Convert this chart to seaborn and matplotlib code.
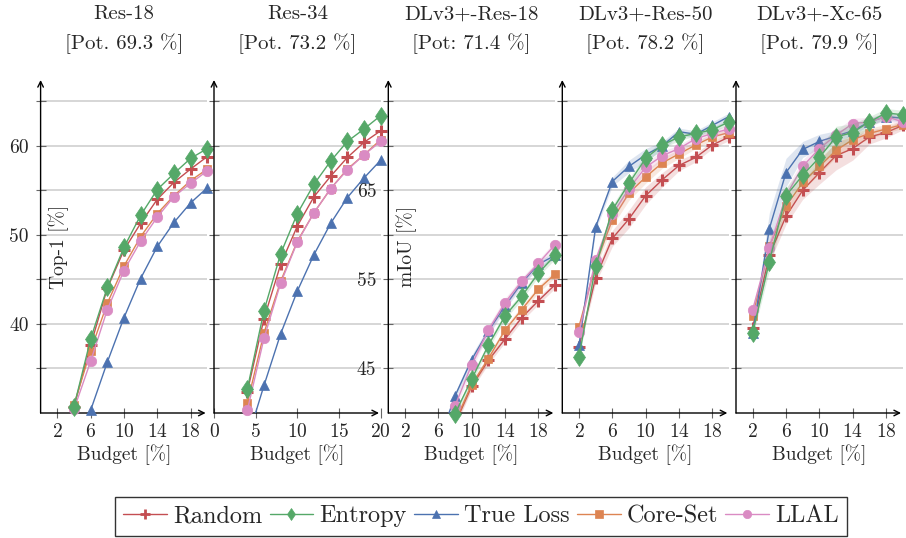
import numpy as np
import pandas as pd
import seaborn as sns
import matplotlib.pyplot as plt
from matplotlib.lines import Line2D

nan = np.nan

methods = ["Random", "Entropy", "True Loss", "Core-Set", "LLAL"]
titles = ["Res-18\n[Pot. 69.3 %]", "Res-34\n[Pot. 73.2 %]", "DLv3+-Res-18\n[Pot: 71.4 %]",
          "DLv3+-Res-50\n[Pot. 78.2 %]", "DLv3+-Xc-65\n[Pot. 79.9 %]"]
budget = [2, 4, 6, 8, 10, 12, 14, 16, 18, 20]

# Top-1 [%], classification
res18 = {
    "Random":    [nan, 30.7, 37.6, 44.0, 48.3, 51.3, 54.0, 55.9, 57.4, 58.8],
    "Entropy":   [nan, 30.7, 38.3, 44.1, 48.6, 52.2, 55.1, 56.9, 58.6, 59.7],
    "True Loss": [nan, nan, 30.3, 35.7, 40.7, 45.1, 48.7, 51.4, 53.6, 55.3],
    "Core-Set":  [nan, 30.9, 37.0, 42.3, 46.5, 49.8, 52.4, 54.4, 56.1, 57.4],
    "LLAL":      [nan, 30.4, 35.8, 41.6, 46.0, 49.3, 52.0, 54.3, 55.8, 57.2],
}
res34 = {
    "Random":    [nan, 32.4, 40.6, 46.7, 51.0, 54.3, 56.6, 58.7, 60.4, 61.7],
    "Entropy":   [nan, 32.7, 41.5, 47.9, 52.4, 55.7, 58.3, 60.5, 61.9, 63.4],
    "True Loss": [nan, 27.0, 33.1, 38.9, 43.7, 47.8, 51.3, 54.2, 56.4, 58.4],
    "Core-Set":  [nan, 31.1, 39.0, 44.8, 49.3, 52.5, 55.2, 57.4, 59.0, 60.7],
    "LLAL":      [nan, 30.3, 38.4, 44.6, 49.2, 52.5, 55.2, 57.3, 59.0, 60.5],
}
# mIoU [%], segmentation
dl_res18 = {
    "Random":    [nan, nan, nan, 38.8, 43.0, 45.9, 48.3, 50.7, 52.6, 54.4],
    "Entropy":   [nan, nan, 35.5, 39.9, 43.8, 47.6, 50.9, 53.1, 55.7, 57.7],
    "True Loss": [nan, nan, 36.6, 41.9, 46.0, 49.2, 52.0, 54.6, 56.7, 57.7],
    "Core-Set":  [nan, nan, nan, 39.0, 43.2, 46.1, 49.3, 51.6, 53.9, 55.6],
    "LLAL":      [nan, nan, 36.0, 40.8, 45.4, 49.3, 52.4, 54.8, 56.8, 58.9],
}
dl_res50 = {
    "Random":    [47.4, 55.2, 59.6, 61.8, 64.4, 66.2, 67.8, 68.7, 70.1, 71.0],
    "Entropy":   [46.3, 56.5, 62.8, 65.8, 68.6, 70.1, 71.0, 71.4, 71.8, 72.7],
    "True Loss": [47.6, 60.9, 66.0, 67.7, 69.0, 70.0, 71.6, 71.3, 72.3, 73.3],
    "Core-Set":  [49.7, 56.7, 61.7, 64.7, 66.5, 68.1, 69.1, 70.1, 71.0, 71.5],
    "LLAL":      [49.1, 57.2, 62.3, 65.2, 67.6, 68.9, 69.7, 70.8, 71.4, 71.9],
}
dl_xc65 = {
    "Random":    [49.6, 57.7, 62.1, 65.0, 67.0, 68.9, 69.7, 71.0, 71.5, 72.3],
    "Entropy":   [49.0, 57.0, 64.4, 66.7, 68.7, 71.0, 71.5, 72.7, 73.7, 73.5],
    "True Loss": [49.0, 60.7, 67.0, 69.6, 70.5, 71.1, 71.7, 72.7, 73.3, 73.1],
    "Core-Set":  [50.9, 58.7, 63.2, 65.9, 67.7, 69.5, 70.7, 71.4, 71.9, 72.4],
    "LLAL":      [51.6, 58.5, 64.4, 67.7, 69.7, 71.2, 72.5, 72.7, 73.3, 72.7],
}
# std bands (segmentation runs)
std_dl_res18 = {
    "Random":    [nan, nan, nan, 0.4, 0.4, 0.4, 0.4, 0.4, 0.4, 0.4],
    "Entropy":   [nan, nan, 0.4, 0.4, 0.4, 0.4, 0.4, 0.4, 0.4, 0.4],
    "True Loss": [nan, nan, 0.4, 0.4, 0.5, 0.5, 0.4, 0.4, 0.4, 0.4],
    "Core-Set":  [nan, nan, nan, 0.4, 0.4, 0.4, 0.4, 0.4, 0.4, 0.4],
    "LLAL":      [nan, nan, 0.4, 0.5, 0.5, 0.5, 0.5, 0.4, 0.4, 0.4],
}
std_dl_res50 = {
    "Random":    [0.4, 0.6, 0.9, 1.0, 1.0, 0.8, 0.6, 0.5, 0.4, 0.4],
    "Entropy":   [0.3, 0.4, 0.5, 0.5, 0.5, 0.4, 0.4, 0.3, 0.3, 0.3],
    "True Loss": [0.3, 0.4, 0.5, 0.7, 0.7, 0.5, 0.4, 0.4, 0.4, 0.4],
    "Core-Set":  [0.3, 0.5, 0.7, 0.8, 0.7, 0.6, 0.5, 0.4, 0.4, 0.4],
    "LLAL":      [0.3, 0.5, 0.6, 0.6, 0.6, 0.5, 0.4, 0.4, 0.4, 0.4],
}
std_dl_xc65 = {
    "Random":    [0.4, 0.8, 0.9, 1.0, 1.3, 1.6, 1.3, 0.8, 0.6, 0.5],
    "Entropy":   [0.4, 1.0, 0.9, 0.9, 1.1, 1.2, 1.0, 0.6, 0.5, 0.5],
    "True Loss": [0.4, 1.8, 1.6, 0.9, 0.8, 0.6, 0.5, 0.4, 0.4, 0.4],
    "Core-Set":  [0.4, 0.8, 0.8, 0.8, 0.9, 0.8, 0.7, 0.6, 0.5, 0.4],
    "LLAL":      [0.4, 0.8, 0.8, 0.7, 0.7, 0.6, 0.6, 0.5, 0.4, 0.4],
}

panels = [res18, res34, dl_res18, dl_res50, dl_xc65]
stds = [None, None, std_dl_res18, std_dl_res50, std_dl_xc65]

sns.set_style("white")
plt.rcParams['font.family'] = ['cmr10', 'DejaVu Serif']
plt.rcParams['mathtext.fontset'] = 'cm'
plt.rcParams['axes.formatter.use_mathtext'] = True

pal = sns.color_palette("deep")
colors = {"Random": pal[3], "Entropy": pal[2], "True Loss": pal[0], "Core-Set": pal[1], "LLAL": pal[6]}
markers = {"Random": "+", "Entropy": "d", "True Loss": "^", "Core-Set": "s", "LLAL": "o"}
msize = {"Random": 9, "Entropy": 9.5, "True Loss": 7.5, "Core-Set": 6, "LLAL": 7.5}
zord = {"Random": 3, "Core-Set": 4, "True Loss": 5, "LLAL": 6, "Entropy": 7}

W, H = 906, 538
fig = plt.figure(figsize=(W / 100, H / 100), dpi=100)
lefts = [40.6, 214.0, 388.3, 562.3, 736.0]
pw, ph, pb = 166.7, 333.0, 413.0

for i, data in enumerate(panels):
    ax = fig.add_axes([lefts[i] / W, (H - pb) / H, pw / W, ph / H])
    seg = i >= 2
    ylo = 40 if seg else 30
    ax.set_xlim(0, 20)
    ax.set_ylim(ylo, ylo + 37.4)

    for m in methods:
        y = np.array(data[m], dtype=float)
        x = np.array(budget, dtype=float)
        c = colors[m]
        if stds[i] is not None:
            s = np.array(stds[i][m], dtype=float)
            ax.fill_between(x, y - s, y + s, color=c, alpha=0.18, lw=0, zorder=zord[m] - 0.5)
        ok = ~np.isnan(y)
        sns.lineplot(x=x[ok], y=y[ok], ax=ax, color=c, lw=1.0, errorbar=None,
                     sort=False, zorder=zord[m])
        vis = ok & (y >= ylo - 0.3)
        mew = 2.2 if m == "Random" else 0.5
        ax.plot(x[vis], y[vis], ls="none", marker=markers[m], ms=msize[m], color=c,
                mec=c, mew=mew, clip_on=False, zorder=zord[m] + 0.2)

    # ticks
    if i == 1:
        ax.set_xticks([0, 5, 10, 15, 20])
    else:
        ax.set_xticks([2, 6, 10, 14, 18])
    yt = np.arange(ylo + 5, ylo + 36, 5)
    ax.set_yticks(yt)
    if i == 0:
        ax.set_yticklabels(["" if v % 10 else f"{v:.0f}" for v in yt])
    elif i == 2:
        ax.set_yticklabels([f"{v:.0f}" if v in (45, 55, 65) else "" for v in yt])
    else:
        ax.set_yticklabels([])
    ax.tick_params(direction="inout", length=7, width=0.8, color="#666666",
                   labelsize=14, pad=5, left=True, bottom=True)
    ax.tick_params(axis="x", pad=4)
    ax.yaxis.grid(True, color="#cccccc", lw=1.1)
    ax.set_axisbelow(True)
    for sp in ax.spines.values():
        sp.set_visible(False)
    ax.annotate("", xy=(0.99, 0), xytext=(0, 0), xycoords="axes fraction",
                arrowprops=dict(arrowstyle="->", lw=1, color="k", shrinkA=0, shrinkB=0))
    ax.annotate("", xy=(0, 1), xytext=(0, 0), xycoords="axes fraction",
                arrowprops=dict(arrowstyle="->", lw=1, color="k", shrinkA=0, shrinkB=0))

    ax.set_xlabel("Budget [%]", fontsize=14, labelpad=2)
    if i == 0:
        ax.set_ylabel("Top-1 [%]", fontsize=14)
        ax.yaxis.set_label_coords(0.17, 0.5)
    elif i == 2:
        ax.set_ylabel("mIoU [%]", fontsize=14)
        ax.yaxis.set_label_coords(0.17, 0.5)
    else:
        ax.set_ylabel("")
    ax.set_title(titles[i], fontsize=15, pad=22, linespacing=1.65)

handles = [Line2D([], [], color=colors[m], lw=1.0, marker=markers[m],
                  ms=6 if m != "Random" else 7, mew=2 if m == "Random" else 0.5, mec=colors[m])
           for m in methods]
leg = fig.legend(handles, methods, loc="upper center", bbox_to_anchor=(0.531, 0.0765), ncol=5,
                 frameon=True, fancybox=False, edgecolor="k", fontsize=17.5,
                 handlelength=1.8, handletextpad=0.25, columnspacing=0.3, borderpad=0.35,
                 borderaxespad=0)
leg.get_frame().set_linewidth(1.0)

fig.savefig("out.png", dpi=100)
